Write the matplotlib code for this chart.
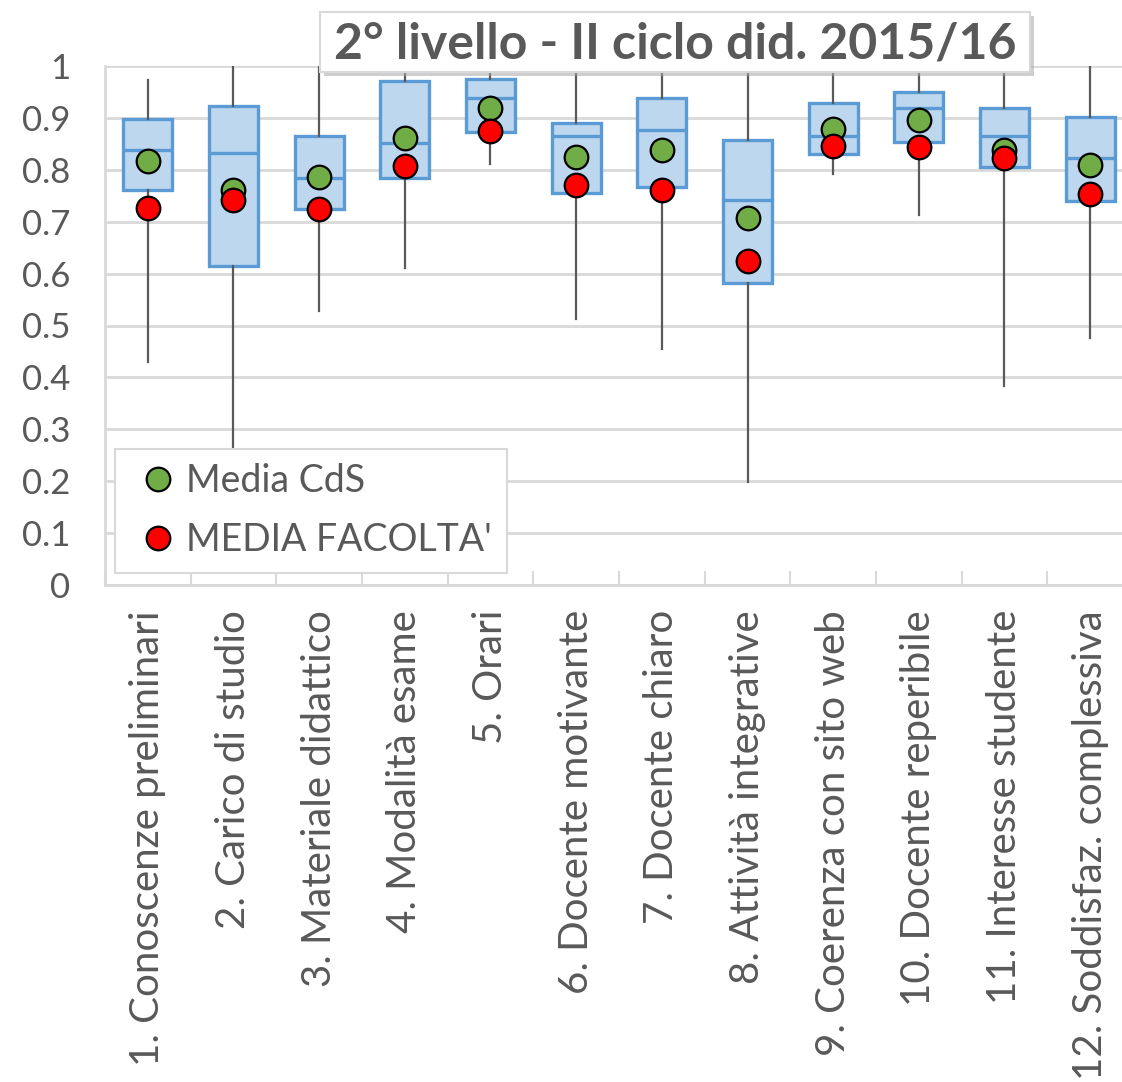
import matplotlib
matplotlib.use("Agg")
import matplotlib.pyplot as plt
from matplotlib.patches import Rectangle

categories = ["1. Conoscenze preliminari", "2. Carico di studio", "3. Materiale didattico",
              "4. Modalità esame", "5. Orari", "6. Docente motivante", "7. Docente chiaro",
              "8. Attività integrative", "9. Coerenza con sito web", "10. Docente reperibile",
              "11. Interesse studente", "12. Soddisfaz. complessiva"]
whisker_low = [0.43, 0.25, 0.528, 0.61, 0.812, 0.512, 0.455, 0.198, 0.791, 0.713, 0.383, 0.475]
q1 = [0.762, 0.615, 0.724, 0.785, 0.873, 0.756, 0.766, 0.582, 0.830, 0.853, 0.806, 0.739]
median = [0.839, 0.832, 0.785, 0.851, 0.938, 0.865, 0.877, 0.742, 0.866, 0.920, 0.866, 0.822]
q3 = [0.897, 0.922, 0.865, 0.972, 0.974, 0.890, 0.939, 0.857, 0.929, 0.949, 0.920, 0.901]
whisker_high = [0.973, 1.0, 1.0, 1.0, 0.99, 1.0, 1.0, 1.0, 1.0, 1.0, 1.0, 1.0]
media_cds = [0.817, 0.761, 0.787, 0.861, 0.920, 0.824, 0.839, 0.708, 0.879, 0.895, 0.838, 0.809]
media_facolta = [0.727, 0.742, 0.724, 0.808, 0.875, 0.771, 0.762, 0.624, 0.845, 0.843, 0.822, 0.753]
yticks = [0, 0.1, 0.2, 0.3, 0.4, 0.5, 0.6, 0.7, 0.8, 0.9, 1]
ytick_labels = ["0", "0.1", "0.2", "0.3", "0.4", "0.5", "0.6", "0.7", "0.8", "0.9", "1"]
title = "2° livello - II ciclo did. 2015/16"

plt.rcParams['font.family'] = ['Lato', 'DejaVu Sans']
txt = '#595959'
W, H = 1122, 1082

fig = plt.figure(figsize=(W/100, H/100), dpi=100)
ax = fig.add_axes([105/W, 1 - 585/H, 1028/W, (585-66)/H])

n = len(categories)
pos = list(range(n))
stats = []
for i in range(n):
    stats.append(dict(med=median[i], q1=q1[i], q3=q3[i], whislo=whisker_low[i],
                      whishi=whisker_high[i], fliers=[]))

ax.bxp(stats, positions=pos, widths=0.57, patch_artist=True, showcaps=False,
       boxprops=dict(facecolor='#bdd7ee', edgecolor='#5b9bd5', linewidth=2.4),
       medianprops=dict(color='#5b9bd5', linewidth=2.4),
       whiskerprops=dict(color='#595959', linewidth=1.6),
       zorder=3)

ax.plot(pos, media_cds, linestyle='none', marker='o', markersize=17,
        markerfacecolor='#70ad47', markeredgecolor='black', markeredgewidth=1.6,
        label='Media CdS', zorder=5)
ax.plot(pos, media_facolta, linestyle='none', marker='o', markersize=17,
        markerfacecolor='#ff0000', markeredgecolor='black', markeredgewidth=1.6,
        label="MEDIA FACOLTA'", zorder=6)

ax.set_xlim(-0.5, n - 0.5)
ax.set_ylim(0, 1)
ax.set_yticks(yticks)
ax.set_yticklabels(ytick_labels, fontsize=25, color=txt)
ax.set_xticks(pos)
ax.set_xticklabels(categories, rotation=90, fontsize=29, color=txt, va='top', ha='center')
ax.set_xticks([p + 0.5 for p in [-1] + pos], minor=True)
ax.tick_params(axis='x', which='major', length=0, pad=18)
ax.tick_params(axis='x', which='minor', length=10, direction='in', color='#d9d9d9', width=1.5)
ax.tick_params(axis='y', length=0, pad=25)

ax.yaxis.grid(True, color='#d9d9d9', linewidth=2)
ax.set_axisbelow(True)
for s in ['top', 'right']:
    ax.spines[s].set_visible(False)
for s in ['left', 'bottom']:
    ax.spines[s].set_color('#d9d9d9')
    ax.spines[s].set_linewidth(2)

leg = ax.legend(loc='lower left', bbox_to_anchor=(10/1028, 12/519), fontsize=27,
                frameon=True, fancybox=False, edgecolor='#d9d9d9', framealpha=1,
                handletextpad=0.0, borderpad=0.4, labelspacing=0.6, handlelength=1.5,
                borderaxespad=0)
leg.get_frame().set_linewidth(1.5)
for t in leg.get_texts():
    t.set_color(txt)

# title box with shadow
fig.patches.append(Rectangle((324/W, 1 - 76/H), 710/W, 60/H, transform=fig.transFigure,
                             facecolor='#a6a6a6', edgecolor='none', alpha=0.55, zorder=8))
fig.patches.append(Rectangle((320/W, 1 - 72/H), 710/W, 60/H, transform=fig.transFigure,
                             facecolor='white', edgecolor='#d9d9d9', linewidth=1.5, zorder=9))
fig.text(675/W, 1 - 44/H, title, fontsize=36, fontweight='bold', color='#595959',
         ha='center', va='center', zorder=10)

fig.savefig('out.png', dpi=100)
